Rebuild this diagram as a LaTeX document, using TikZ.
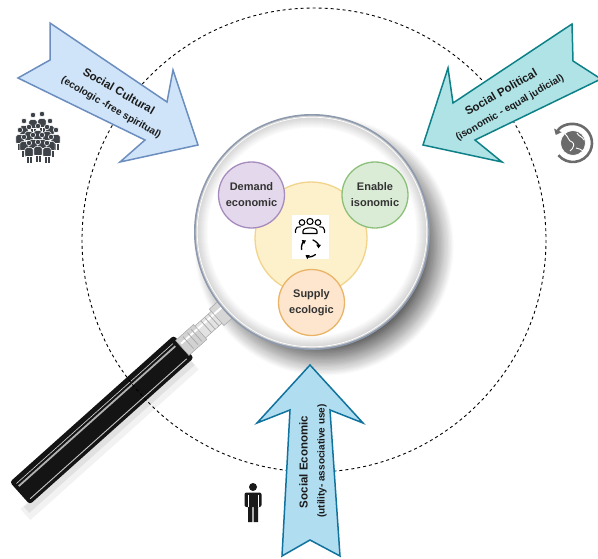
\documentclass[tikz,border=0pt]{standalone}
\usepackage{fontspec}
\setmainfont{Liberation Sans}
\usetikzlibrary{arrows.meta}

\definecolor{culturefill}{HTML}{CFE4F9}
\definecolor{cultureline}{HTML}{6C8EBF}
\definecolor{politicfill}{HTML}{B0E3E6}
\definecolor{politicline}{HTML}{0E8088}
\definecolor{econfill}{HTML}{B1DDF0}
\definecolor{econline}{HTML}{10739E}
\definecolor{demandfill}{HTML}{E4D8EC}
\definecolor{demandline}{HTML}{A68BBD}
\definecolor{enablefill}{HTML}{DAEBD6}
\definecolor{enableline}{HTML}{8CC07A}
\definecolor{supplyfill}{HTML}{FDE5CE}
\definecolor{supplyline}{HTML}{EAB466}
\definecolor{corefill}{HTML}{FDF1CC}
\definecolor{coreline}{HTML}{F2D48C}
\definecolor{inktext}{HTML}{333333}
\definecolor{labelink}{HTML}{1A1A1A}
\definecolor{crowdc}{HTML}{3E434A}
\definecolor{globeg}{HTML}{6B6B6B}
\definecolor{rimc}{HTML}{8D9AAE}

\begin{document}
\begin{tikzpicture}[x=1pt,y=-1pt,
  culturearrow/.style={fill=culturefill,draw=cultureline,line width=1.5pt},
  politicarrow/.style={fill=politicfill,draw=politicline,line width=1.5pt},
  econarrow/.style={fill=econfill,draw=econline,line width=1.5pt},
  titletext/.style={font=\bfseries\fontsize{11.5}{13}\selectfont,text=labelink,inner sep=0pt},
  subtext/.style={font=\bfseries\fontsize{10}{12}\selectfont,text=labelink,inner sep=0pt},
  blob/.style={circle,inner sep=0pt,line width=1.3pt,align=center,
    font=\bfseries\fontsize{11}{16}\selectfont,text=inktext},
  iconline/.style={draw=black,line width=1.1pt,line cap=round,line join=round},
  crowdfig/.pic={
    \fill[crowdc,draw=white,line width=0.5pt] (0,0) circle[radius=3];
    \fill[crowdc,draw=white,line width=0.5pt,rounded corners=1.8pt]
      (-4.6,16) -- (-4.6,5.2) -- (4.6,5.2) -- (4.6,16) -- cycle;
    \fill[crowdc,draw=white,line width=0.5pt] (-3.2,15) rectangle (3.2,23);
    \draw[white,line width=0.5pt] (0,16) -- (0,23);
  }]
\useasboundingbox (0,0) rectangle (598,559);
\begin{scope}
\clip (0,0) rectangle (598,559);

% ---- lens shadow: stepped rings, light outside, dark toward the rim ----
\foreach \i in {0,...,22}{
  \pgfmathsetmacro\rr{131-1.4*\i}
  \pgfmathtruncatemacro\tone{min(2.8*\i,62)}
  \fill[black!\tone] (324,246) circle[radius=\rr];
}

% ---- handle: ferrule and black grip along the handle axis ----
\begin{scope}[shift={(312,232)},rotate=221.8]
  \fill[black,opacity=0.05] (176,-12) rectangle (402,-27);
  \fill[black,opacity=0.07] (176,-13) rectangle (398,-21);
  \fill[black!92,rounded corners=3pt] (172,-15) rectangle (392,15);
  \draw[gray!60,line width=1.8pt] (178,6) -- (388,6);
  \draw[gray!30,line width=0.6pt] (178,9.5) -- (388,9.5);
  \draw[gray!45,line width=0.9pt] (178,-11) -- (388,-11);
  \fill[gray!35] (150,-10) rectangle (174,10);
  \fill[gray!22] (128,-8) rectangle (150,8);
  \fill[gray!32] (106,-11) rectangle (128,11);
  \draw[white,line width=2pt] (108,4) -- (172,4);
  \foreach \d in {132,137,142,155,160,166}
    \draw[gray!65,line width=0.8pt] (\d,-8) -- (\d,8);
  \draw[gray!70,line width=0.5pt] (106,-11) rectangle (128,11)
    (128,-8) rectangle (150,8) (150,-10) rectangle (174,10);
\end{scope}

% ---- dashed orbit ----
\draw[line width=0.9pt,dash pattern=on 3pt off 3pt] (314,240) circle[radius=232];

% ---- lens: rim, bevelled glass edge, clear centre ----
\fill[rimc] (312,232) circle[radius=118];
\foreach \i in {0,...,12}{
  \pgfmathsetmacro\rr{116.3-\i}
  \pgfmathtruncatemacro\tone{max(36-3*\i,0)}
  \fill[gray!\tone] (312,232) circle[radius=\rr];
}
\fill[white] (312,232) circle[radius=103.5];
\draw[white,line width=0.7pt] (312,232) circle[radius=114.8];

% ---- inner model ----
\node[circle,minimum size=112pt,inner sep=0pt,fill=corefill,draw=coreline,line width=1.3pt] (core) at (311,238) {};
\node[blob,minimum size=66pt,fill=demandfill,draw=demandline] (demand) at (251.5,195) {Demand\\economic};
\node[blob,minimum size=66pt,fill=enablefill,draw=enableline] (enable) at (375,195) {Enable\\isonomic};
\node[blob,minimum size=66pt,fill=supplyfill,draw=supplyline] (supply) at (311.5,302.5) {Supply\\ecologic};
\node[fill=white,minimum width=37pt,minimum height=44pt,inner sep=0pt] (icon) at (310.5,237) {};
% people group
\draw[iconline] (302,222.5) circle[radius=2.8] (318,222.5) circle[radius=2.8] (310,221.5) circle[radius=3.1];
\draw[iconline] (295.5,232.5) -- (295.5,230) .. controls (295.5,227) and (298,226.8) .. (300.5,226.8);
\draw[iconline] (324.5,232.5) -- (324.5,230) .. controls (324.5,227) and (322,226.8) .. (319.5,226.8);
\draw[iconline,fill=white] (303,233.5) -- (303,231) .. controls (303,226.8) and (317,226.8) .. (317,231) -- (317,233.5) -- cycle;
% cycle arrows
\foreach \a in {-70,50,170}
  \draw[iconline,line width=1.3pt,-{Triangle[length=3.6pt,width=4.6pt]}] ([shift={(\a:8.5)}]310,248) arc[start angle=\a,end angle=\a+72,radius=8.5];

% ---- Social Cultural ----
\draw[culturearrow] (50,23) -- (167,102) -- (173,70) -- (198,145) -- (120,162) -- (145,140) -- (18,78) -- (50,60) -- cycle;
\node[titletext,rotate=-30] (cultT) at (119,91) {Social Cultural};
\node[subtext,rotate=-30] (cultS) at (111,108) {(ecologic -free spiritual)};

% ---- Social Political ----
\draw[politicarrow] (572,24) -- (453,103) -- (448,68) -- (423,145) -- (502,162) -- (475,140) -- (601,79) -- (573,61) -- cycle;
\node[titletext,rotate=30] (polT) at (501,92) {Social Political};
\node[subtext,rotate=30] (polS) at (510,108) {(isonomic - equal judicial)};

% ---- Social Economic ----
\draw[econarrow] (310,365) -- (363,423) -- (330,410) -- (340,556) -- (310,540) -- (282,556) -- (290,410) -- (257,423) -- cycle;
\node[titletext,rotate=90] (ecoT) at (303.5,462) {Social Economic};
\node[subtext,rotate=90] (ecoS) at (322,461) {(utility- associative use)};

% ---- crowd ----
\foreach \x/\y in {33/115,42/114,24/121,50/121,20/130,29/127,38/126,47/127,56/130,24/137,33/135,42/135,51/137,29/143,38/142,47/143}
  \pic[scale=0.9] at (\x,\y) {crowdfig};

% ---- single person ----
\fill[black!90] (253,487) circle[radius=4];
\fill[black!90,rounded corners=2pt] (244.5,507) -- (244.5,492.5) -- (261.5,492.5) -- (261.5,507) -- cycle;
\fill[black!90] (248,504) rectangle (252.4,522) (253.6,504) rectangle (258,522);
\draw[white,line width=0.5pt] (248,494.5) -- (248,507) (258,494.5) -- (258,507);

% ---- globe with circular arrow ----
\draw[globeg,line width=2.6pt,{Triangle[width=8pt,length=5pt]}-] ([shift={(205:19)}]573,143) arc[start angle=205,end angle=500,radius=19];
\fill[globeg] (573,143) circle[radius=12.5];
\draw[white,line width=0.9pt] (565,134) .. controls (569,137) and (568,141) .. (572,142) .. controls (575,143) and (574,148) .. (570,151)
  (577,133) .. controls (579,137) and (582,136) .. (584,140)
  (576,148) .. controls (579,150) and (581,148) .. (583,151);
\draw[white,line width=0.7pt] (573,143) circle[radius=12.5];
\end{scope}
\end{tikzpicture}
\end{document}
